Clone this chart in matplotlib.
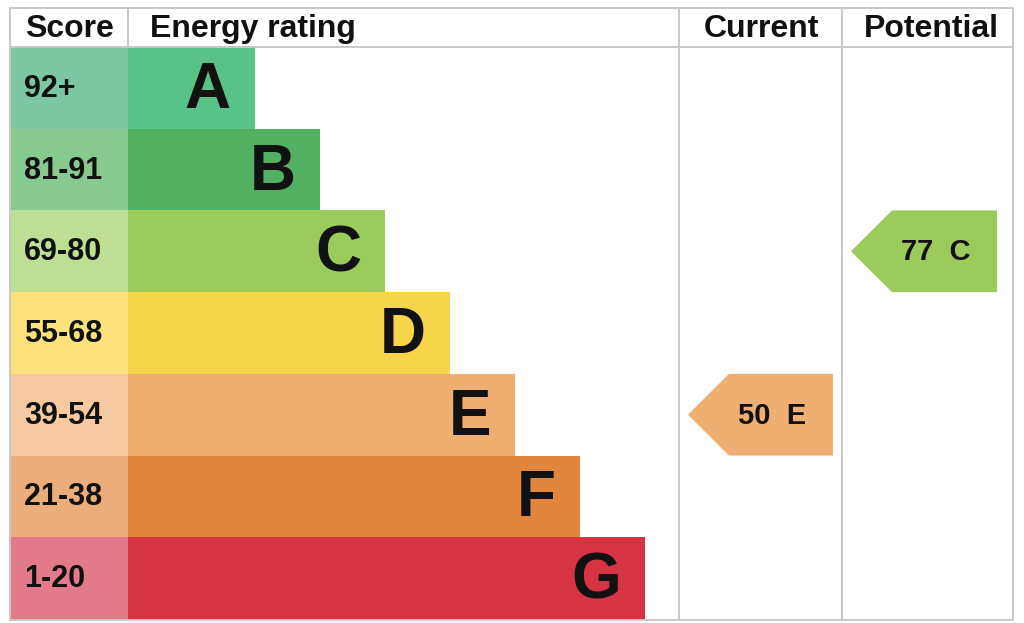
import matplotlib
matplotlib.use("Agg")
import matplotlib.pyplot as plt
from matplotlib.patches import Rectangle, Polygon

bands = ["A", "B", "C", "D", "E", "F", "G"]
score_ranges = ["92+", "81-91", "69-80", "55-68", "39-54", "21-38", "1-20"]
band_min = [92, 81, 69, 55, 39, 21, 1]
bar_colors = ["#58c387", "#53b062", "#9bcb5b", "#f7d54a", "#efae72", "#e1863c", "#d63442"]
score_colors = ["#7cc6a4", "#87c98f", "#bddf93", "#fbe27a", "#f5c9a1", "#ebae7b", "#e27a8b"]
headers = ["Score", "Energy rating", "Current", "Potential"]
current_score = 50
potential_score = 77

W, H = 1024, 623
plt.rcParams['font.family'] = ['Liberation Sans', 'DejaVu Sans']
fig = plt.figure(figsize=(W / 100, H / 100), dpi=100)
ax = fig.add_axes([0, 0, 1, 1])
ax.set_xlim(0, W)
ax.set_ylim(H, 0)
ax.axis('off')

# table geometry (pixels)
left, right = 10, 1013
top, head_bot, bottom = 8, 47, 619
col_score, col_cur, col_pot = 128, 679, 842
row_h = (bottom - head_bot) / len(bands)
grid = "#c8c8c8"
ink = "#111111"


def band_of(score):
    for i, lo in enumerate(band_min):
        if score >= lo:
            return i
    return len(bands) - 1


for i, (b, rng) in enumerate(zip(bands, score_ranges)):
    y0 = head_bot + i * row_h
    ax.add_patch(Rectangle((left, y0), col_score - left, row_h,
                           facecolor=score_colors[i], edgecolor='none'))
    bar_end = 255 + 65 * i
    ax.add_patch(Rectangle((col_score, y0), bar_end - col_score, row_h,
                           facecolor=bar_colors[i], edgecolor='none'))
    ax.text(24, y0 + row_h / 2 + 1, rng, fontsize=22, fontweight='bold',
            ha='left', va='center', color=ink)
    ax.text(bar_end - 24, y0 + row_h / 2 + 3, b, fontsize=46, fontweight='bold',
            ha='right', va='center', color=ink)

# grid lines
lw = 1.4
ax.plot([left, right, right, left, left], [top, top, bottom + 1, bottom + 1, top],
        color=grid, lw=lw)
ax.plot([left, right], [head_bot, head_bot], color=grid, lw=lw)
ax.plot([col_score, col_score], [top, head_bot], color=grid, lw=lw)
for x in (col_cur, col_pot):
    ax.plot([x, x], [top, bottom + 1], color=grid, lw=lw)

# header text
ax.text(69, 29, headers[0], fontsize=23, fontweight='bold',
        ha='center', va='center', color=ink)
ax.text(150, 29, headers[1], fontsize=23, fontweight='bold',
        ha='left', va='center', color=ink)
ax.text(761, 29, headers[2], fontsize=23, fontweight='bold',
        ha='center', va='center', color=ink)
ax.text(931, 29, headers[3], fontsize=23, fontweight='bold',
        ha='center', va='center', color=ink)


def arrow(score, x0, x1):
    i = band_of(score)
    y0 = head_bot + i * row_h
    y1 = y0 + row_h
    ym = (y0 + y1) / 2
    pts = [(x0, ym), (x0 + 41, y0), (x1, y0), (x1, y1), (x0 + 41, y1)]
    ax.add_patch(Polygon(pts, closed=True, facecolor=bar_colors[i], edgecolor='none'))
    ax.text((x0 + x1) / 2 + 12, ym + 1, f"{score}  {bands[i]}", fontsize=21,
            fontweight='bold', ha='center', va='center', color=ink)


arrow(current_score, 688, 833)
arrow(potential_score, 851, 997)

fig.savefig("out.png", dpi=100)
